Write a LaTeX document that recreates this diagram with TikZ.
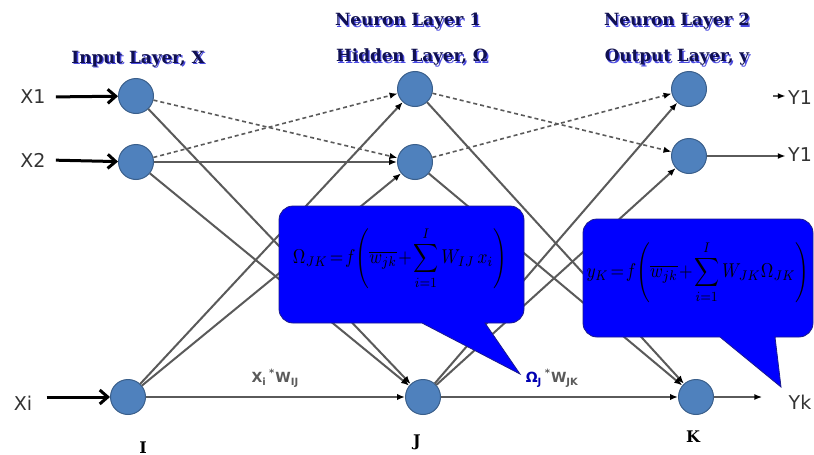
\documentclass[tikz,border=0pt]{standalone}
\usepackage{fontspec}
\setmainfont{DejaVu Sans}
\newfontfamily\titlefont{DejaVu Serif}
\usepackage{graphicx}
\usepackage{tikz}
\usetikzlibrary{arrows.meta}
\definecolor{NeuronBlue}{HTML}{4F81BD}
\definecolor{NeuronEdge}{HTML}{3A5F8B}
\definecolor{LinkGray}{HTML}{5A5A5A}
\definecolor{BubbleBlue}{HTML}{0000FF}
\definecolor{BubbleEdge}{HTML}{1A1A8C}
\definecolor{TitleInk}{HTML}{101050}
\definecolor{TitleShadow}{HTML}{4A4AE0}
\newcommand{\layertitle}[1]{\makebox[0pt][l]{\hspace*{0.7pt}\raisebox{-0.7pt}{\color{TitleShadow}#1}}#1}
\newcommand{\tightmath}{\thickmuskip=2mu\relax\medmuskip=1.5mu\relax}
\newcommand{\narroweq}[1]{\tightmath\scalebox{0.87}[1]{$\displaystyle #1$}}
\tikzset{
  neuron/.style={circle,draw=NeuronEdge,line width=0.5pt,fill=NeuronBlue,minimum size=17.5pt,inner sep=0pt},
  link/.style={draw=LinkGray,line width=1pt,-{Latex[length=4pt,width=3.2pt,black]}},
  weaklink/.style={link,line width=0.8pt,dash pattern=on 2pt off 1.5pt},
  inarrow/.style={draw=black,line width=1.5pt,-{Straight Barb[length=4pt,width=7pt]}},
  outarrow/.style={draw=LinkGray,line width=0.8pt,-{Latex[length=4pt,width=3pt,black]}},
  title/.style={font=\titlefont\bfseries\fontsize{8.4}{10}\selectfont,text=TitleInk},
  signal/.style={font=\fontsize{9.5}{11}\selectfont,text=black!80,inner sep=1pt},
  index/.style={font=\titlefont\bfseries\fontsize{8}{9}\selectfont},
  weight/.style={font=\bfseries\fontsize{7}{8}\selectfont,text=LinkGray},
  bubble/.style={fill=BubbleBlue,draw=BubbleEdge,line width=0.4pt},
  formula/.style={font=\fontsize{10}{12}\selectfont,inner sep=0pt}
}
\begin{document}
\begin{tikzpicture}[x=0.5pt,y=-0.5pt]
  \useasboundingbox (0,0) rectangle (814,455);
  % layer titles
  \node[title] (tIn) at (138,60) {\layertitle{Input Layer, X}};
  \node[title] (tN1) at (408,22) {\layertitle{Neuron Layer 1}};
  \node[title] (tHid) at (412,58) {\layertitle{Hidden Layer, Ω}};
  \node[title] (tN2) at (677,22) {\layertitle{Neuron Layer 2}};
  \node[title] (tOut) at (677,58) {\layertitle{Output Layer, y}};
  % neurons
  \foreach \n/\x/\y in {I1/136/96,I2/136/162,Ii/128/397,H1/415/89,H2/415/162,Hj/423/397,O1/689/89,O2/689/156,Ok/696/397}
    \node[neuron] (\n) at (\x,\y) {};
  % input to hidden
  \foreach \a/\b in {I1/Hj,I2/Hj,Ii/H1,Ii/H2,I2/H2}
    \draw[link] (\a) -- (\b);
  \foreach \a/\b in {I1/H2,I2/H1}
    \draw[weaklink] (\a) -- (\b);
  % hidden to output
  \foreach \a/\b in {H1/Ok,H2/Ok,Hj/O1,Hj/O2}
    \draw[link] (\a) -- (\b);
  \foreach \a/\b in {H1/O2,H2/O1}
    \draw[weaklink] (\a) -- (\b);
  \draw[link] (Ii) -- node[weight,above=1pt] {X\textsubscript{i}\,\textsuperscript{*}W\textsubscript{IJ}} (Ii -| Hj.west);
  \draw[link] (Hj) -- node[weight,above=1pt,pos=0.47] {{\color{blue!70!black}Ω\textsubscript{J}}\,\textsuperscript{*}W\textsubscript{JK}} (Hj -| Ok.west);
  % signals in and out
  \node[signal] (x1) at (33,97) {X1};
  \node[signal] (x2) at (33,160) {X2};
  \node[signal] (xi) at (23,403) {Xi};
  \draw[inarrow,shorten <=4pt] (x1.east) -- (I1);
  \draw[inarrow,shorten <=4pt] (x2.east) -- (I2);
  \draw[inarrow,shorten <=6pt] (xi.east |- Ii) -- (Ii);
  \node[signal] (y1a) at (800,98) {Y1};
  \node[signal] (y1b) at (800,155) {Y1};
  \node[signal] (yk) at (800,402) {Yk};
  \coordinate (tipA) at (773,96);
  \draw[outarrow] (tipA) -- (y1a.west |- tipA);
  \draw[outarrow] (O2) -- (y1b.west |- O2);
  \draw[outarrow,shorten >=12pt] (Ok) -- (yk.west |- Ok);
  % layer indices
  \node[index] (li) at (143,448) {I};
  \node[index] (lj) at (417,442) {J};
  \node[index] (lk) at (693,437) {K};
  % formula callouts
  \draw[bubble] (520,374) -- (422,323) [rounded corners=7pt] -- (279,323) -- (279,206) -- (524,206) -- (524,323) [sharp corners] -- (485,323) -- cycle;
  \node[formula] (eq1) at (400,258) {\narroweq{\Omega_{JK} = f\Biggl(\overline{w_{jk}} + \sum_{i=1}^{I} W_{IJ}\, x_i\Biggr)}};
  \draw[bubble] (781,387) -- (720,337) [rounded corners=7pt] -- (583,337) -- (583,219) -- (813,219) -- (813,337) [sharp corners] -- (775,337) -- cycle;
  \node[formula] (eq2) at (698,272) {\narroweq{y_K = f\Biggl(\overline{w_{jk}} + \sum_{i=1}^{I} W_{JK}\Omega_{JK}\Biggr)}};
\end{tikzpicture}
\end{document}
